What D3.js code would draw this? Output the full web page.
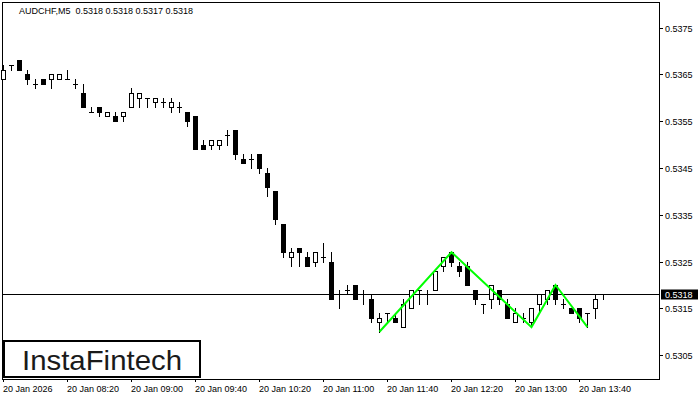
<!DOCTYPE html>
<meta charset="utf-8">
<style>
body { margin: 0; background: #fff; }
text { font-family: "Liberation Sans", Arial, sans-serif; }
</style>
<body>
<script src="https://cdn.jsdelivr.net/npm/d3@7"></script>
<script>
// AUDCHF M5, 20 Jan 2026, one candle every 5 minutes from 07:40
var symbol = "AUDCHF,M5";
var firstBar = "07:40";
var opens  = [0.5364,0.5367,0.5368,0.5365,0.5363,0.5364,0.5364,0.5364,0.5364,0.5363,
              0.5361,0.5357,0.5358,0.5356,0.5356,0.5356,0.5358,0.5360,0.5360,0.5359,
              0.5359,0.5358,0.5358,0.5357,0.5356,0.5350,0.5350,0.5350,0.5352,0.5353,
              0.5347,0.5347,0.5348,0.5344,0.5340,0.5333,0.5326,0.5328,0.5326,0.5325,
              0.5326,0.5325,0.5318,0.5319,0.5320,0.5318,0.5317,0.5312,0.5314,0.5313,
              0.5311,0.5315,0.5319,0.5318,0.5319,0.5324,0.5327,0.5324,0.5324,0.5319,
              0.5316,0.5317,0.5319,0.5316,0.5312,0.5313,0.5312,0.5316,0.5317,0.5320,
              0.5316,0.5315,0.5315,0.5314,0.5315,0.5318];
var highs  = [0.5367,0.5367,0.5368,0.5366,0.5364,0.5364,0.5365,0.5365,0.5366,0.5364,
              0.5363,0.5358,0.5358,0.5357,0.5357,0.5357,0.5362,0.5361,0.5360,0.5360,
              0.5360,0.5360,0.5359,0.5357,0.5356,0.5351,0.5351,0.5351,0.5353,0.5353,
              0.5348,0.5348,0.5348,0.5345,0.5340,0.5333,0.5328,0.5328,0.5327,0.5327,
              0.5329,0.5327,0.5319,0.5320,0.5320,0.5319,0.5318,0.5314,0.5314,0.5314,
              0.5317,0.5319,0.5319,0.5319,0.5323,0.5326,0.5327,0.5325,0.5325,0.5319,
              0.5316,0.5320,0.5319,0.5317,0.5315,0.5314,0.5315,0.5318,0.5319,0.5320,
              0.5317,0.5315,0.5315,0.5314,0.5318,0.5318];
var lows   = [0.5364,0.5366,0.5366,0.5363,0.5362,0.5363,0.5362,0.5364,0.5364,0.5362,
              0.5358,0.5357,0.5356,0.5356,0.5355,0.5355,0.5358,0.5358,0.5358,0.5358,
              0.5358,0.5357,0.5357,0.5354,0.5349,0.5349,0.5349,0.5349,0.5350,0.5347,
              0.5346,0.5345,0.5344,0.5339,0.5333,0.5326,0.5324,0.5324,0.5324,0.5324,
              0.5325,0.5317,0.5315,0.5318,0.5317,0.5316,0.5312,0.5310,0.5312,0.5312,
              0.5311,0.5315,0.5316,0.5316,0.5319,0.5323,0.5324,0.5322,0.5320,0.5316,
              0.5314,0.5315,0.5316,0.5313,0.5312,0.5312,0.5311,0.5314,0.5316,0.5316,
              0.5315,0.5314,0.5312,0.5311,0.5313,0.5317];
var closes = [0.5366,0.5367,0.5366,0.5364,0.5363,0.5363,0.5365,0.5365,0.5364,0.5363,
              0.5358,0.5357,0.5357,0.5357,0.5355,0.5357,0.5361,0.5361,0.5360,0.5360,
              0.5359,0.5359,0.5358,0.5355,0.5349,0.5349,0.5351,0.5351,0.5352,0.5348,
              0.5346,0.5347,0.5345,0.5341,0.5334,0.5327,0.5327,0.5327,0.5324,0.5327,
              0.5326,0.5317,0.5318,0.5319,0.5317,0.5318,0.5313,0.5313,0.5314,0.5312,
              0.5316,0.5319,0.5319,0.5318,0.5323,0.5326,0.5325,0.5323,0.5320,0.5317,
              0.5316,0.5320,0.5317,0.5313,0.5314,0.5313,0.5315,0.5318,0.5319,0.5317,
              0.5316,0.5314,0.5313,0.5314,0.5317,0.5318];

// pattern drawn on the chart: bar index and price of each turning point
var patternBars   = [47, 56, 66, 69, 73];
var patternPrices = [0.5310, 0.5327, 0.5311, 0.5320, 0.5311];

var priceTicks = [0.5375, 0.5365, 0.5355, 0.5345, 0.5335, 0.5325, 0.5315, 0.5305];
var timeTicks  = ["07:40","08:20","09:00","09:40","10:20","11:00","11:40","12:20","13:00","13:40"];
var timeLabels = ["20 Jan 2026","20 Jan 08:20","20 Jan 09:00","20 Jan 09:40","20 Jan 10:20",
                  "20 Jan 11:00","20 Jan 11:40","20 Jan 12:20","20 Jan 13:00","20 Jan 13:40"];
var lastPrice = 0.5318;

var width = 700, height = 400;
var plot = {left: 2, top: 2, right: 659, bottom: 379};

var svg = d3.select("body").append("svg")
    .attr("width", width)
    .attr("height", height)
    .style("display", "block");

var parseT = d3.timeParse("%H:%M");
var t0 = parseT(firstBar);
function barIndex(t) { return (parseT(t) - t0) / 300000; }

var x = d3.scaleLinear().domain([0, 75]).range([3, 603]);
var y = d3.scaleLinear().domain([0.5305, 0.5375]).range([355.2, 27.5]);
function py(p) { return Math.round(y(p)); }

var data = opens.map(function(o, i) {
  return {i: i, o: o, h: highs[i], l: lows[i], c: closes[i]};
});

// frame
svg.append("rect")
    .attr("x", plot.left + 0.5).attr("y", plot.top + 0.5)
    .attr("width", plot.right - plot.left).attr("height", plot.bottom - plot.top)
    .attr("fill", "none").attr("stroke", "#000");

// right price axis
var yAxis = svg.append("g");
priceTicks.forEach(function(p) {
  var yy = py(p) + 0.5;
  yAxis.append("line").attr("x1", plot.right).attr("x2", plot.right + 4)
      .attr("y1", yy).attr("y2", yy).attr("stroke", "#000");
  yAxis.append("text").attr("x", 665).attr("y", yy + 3.5)
      .attr("font-size", 9).attr("fill", "#000").text(d3.format(".4f")(p));
});

// bottom time axis
var xAxis = svg.append("g");
timeTicks.forEach(function(t, k) {
  var xx = Math.round(x(barIndex(t))) + 0.5;
  xAxis.append("line").attr("x1", xx).attr("x2", xx)
      .attr("y1", plot.bottom).attr("y2", plot.bottom + 3).attr("stroke", "#000");
  xAxis.append("text").attr("x", xx - 0.5).attr("y", 392)
      .attr("font-size", 9).attr("fill", "#000").text(timeLabels[k]);
});

// last price line
var yl = py(lastPrice) + 0.5;
svg.append("line").attr("x1", plot.left).attr("x2", plot.right)
    .attr("y1", yl).attr("y2", yl).attr("stroke", "#000");

// candles
var candles = svg.append("g").selectAll("g").data(data).enter().append("g");
candles.append("line")
    .attr("x1", function(d) { return Math.round(x(d.i)) + 0.5; })
    .attr("x2", function(d) { return Math.round(x(d.i)) + 0.5; })
    .attr("y1", function(d) { return py(d.h); })
    .attr("y2", function(d) { return py(d.l) + 1; })
    .attr("stroke", "#000");
candles.each(function(d) {
  var g = d3.select(this), cx = Math.round(x(d.i));
  var yt = py(Math.max(d.o, d.c)), yb = py(Math.min(d.o, d.c));
  if (d.o === d.c) {
    g.append("line").attr("x1", cx - 2).attr("x2", cx + 3)
        .attr("y1", yt + 0.5).attr("y2", yt + 0.5).attr("stroke", "#000");
  } else if (d.c > d.o) {
    g.append("rect").attr("x", cx - 1.5).attr("y", yt + 0.5)
        .attr("width", 4).attr("height", yb - yt)
        .attr("fill", "#fff").attr("stroke", "#000");
  } else {
    g.append("rect").attr("x", cx - 2).attr("y", yt)
        .attr("width", 5).attr("height", yb - yt + 1)
        .attr("fill", "#000");
  }
});

// pattern line
var pts = patternBars.map(function(b, k) { return [x(b) + 0.5, y(patternPrices[k])]; });
svg.append("path")
    .attr("d", d3.line()(pts))
    .attr("fill", "none").attr("stroke", "#00ff00").attr("stroke-width", 2);

// last price label
svg.append("rect").attr("x", 661).attr("y", yl - 5).attr("width", 37).attr("height", 10)
    .attr("fill", "#000");
svg.append("text").attr("x", 665).attr("y", yl + 3.5)
    .attr("font-size", 9).attr("fill", "#fff").text(d3.format(".4f")(lastPrice));

// title
svg.append("text").attr("x", 19).attr("y", 14)
    .attr("font-size", 9).attr("fill", "#000").style("white-space", "pre")
    .text(symbol + "  " + [lastPrice, 0.5318, 0.5317, lastPrice].map(d3.format(".4f")).join(" "));

// logo
svg.append("rect").attr("x", 4).attr("y", 341).attr("width", 196).attr("height", 36)
    .attr("fill", "#fff").attr("stroke", "#000").attr("stroke-width", 2);
svg.append("text").attr("x", 102).attr("y", 369.5).attr("text-anchor", "middle")
    .attr("font-size", 28).attr("fill", "#1a1a1a")
    .attr("textLength", 160).attr("lengthAdjust", "spacingAndGlyphs")
    .text("InstaFintech");
</script>
</body>
